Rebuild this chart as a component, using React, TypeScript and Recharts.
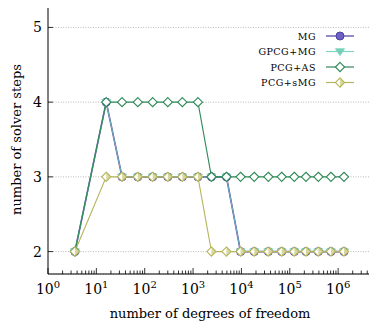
import React from "react";
import {
  LineChart,
  Line,
  XAxis,
  YAxis,
  CartesianGrid,
  Legend,
} from "recharts";

// degrees of freedom (x) and solver steps per method
const dofs = [
  3.6, 16, 34, 72, 146, 300, 600, 1260, 2400, 4900, 9600, 18400, 36000, 68000,
  124000, 216000, 390000, 710000, 1320000,
];
const mgSteps = [2, 4, 3, 3, 3, 3, 3, 3, 3, 3, 2, 2, 2, 2, 2, 2, 2, 2, 2];
const gpcgMgSteps = [2, 4, 3, 3, 3, 3, 3, 3, 3, 3, 2, 2, 2, 2, 2, 2, 2, 2, 2];
const pcgAsSteps = [2, 4, 4, 4, 4, 4, 4, 4, 3, 3, 3, 3, 3, 3, 3, 3, 3, 3, 3];
const pcgSmgSteps = [2, 3, 3, 3, 3, 3, 3, 3, 2, 2, 2, 2, 2, 2, 2, 2, 2, 2, 2];

const yTicks = [2, 3, 4, 5];
const decades = [0, 1, 2, 3, 4, 5, 6];

const X_MAX = Math.pow(10, 6.7);
const FONT = "DejaVu Serif";

const data = dofs.map((x, i) => ({
  x,
  mg: mgSteps[i],
  gpcg: gpcgMgSteps[i],
  pcgas: pcgAsSteps[i],
  pcgsmg: pcgSmgSteps[i],
}));

// major + minor ticks for the log axis
const xTicks: number[] = [];
decades.forEach((k) => {
  for (let m = 1; m <= 9; m++) {
    const v = m * Math.pow(10, k);
    if (v <= X_MAX) xTicks.push(v);
  }
});
const isMajor = (v: number) => Math.abs(Math.log10(v) - Math.round(Math.log10(v))) < 1e-9;

const COLORS = {
  mg: { line: "#4b3f9e", fill: "#6e60c4" },
  gpcg: { line: "#7fd6c0", fill: "#74cdb6" },
  pcgas: { line: "#2f8a57", fill: "#ffffff" },
  pcgsmg: { line: "#b6b55e", fill: "#d9d89c" },
};

function Marker({ kind, cx, cy }: { kind: string; cx: number; cy: number }) {
  if (kind === "mg") {
    return <circle cx={cx} cy={cy} r={4} fill={COLORS.mg.fill} stroke={COLORS.mg.line} strokeWidth={1} />;
  }
  if (kind === "gpcg") {
    const r = 4.5;
    return (
      <path
        d={`M${cx - r},${cy - r * 0.6} L${cx + r},${cy - r * 0.6} L${cx},${cy + r * 0.9} Z`}
        fill={COLORS.gpcg.fill}
        stroke={COLORS.gpcg.line}
        strokeWidth={1}
      />
    );
  }
  const r = 4.6;
  const d = `M${cx},${cy - r} L${cx + r},${cy} L${cx},${cy + r} L${cx - r},${cy} Z`;
  if (kind === "pcgas") {
    return <path d={d} fill="#fff" stroke={COLORS.pcgas.line} strokeWidth={1.1} />;
  }
  return (
    <g>
      <path d={d} fill="#fff" />
      <path d={`M${cx},${cy - r} L${cx + r},${cy} L${cx},${cy + r} Z`} fill={COLORS.pcgsmg.fill} />
      <path d={d} fill="none" stroke={COLORS.pcgsmg.line} strokeWidth={1.1} />
    </g>
  );
}

const dotFor = (kind: string) => (p: any) => (
  <Marker key={`${kind}-${p.index}`} kind={kind} cx={p.cx} cy={p.cy} />
);

function BottomTick(props: any) {
  const { x, y, payload } = props;
  const v = payload.value;
  const major = isMajor(v);
  return (
    <g>
      <line x1={x} y1={y} x2={x} y2={y - (major ? 6 : 3.5)} stroke="#000" strokeWidth={0.8} />
      {major && (
        <text x={x} y={y + 20} textAnchor="middle" fontFamily={FONT} fontSize={14} fill="#000">
          10
          <tspan dy={-6} fontSize={10}>
            {Math.round(Math.log10(v))}
          </tspan>
        </text>
      )}
    </g>
  );
}

function TopTick(props: any) {
  const { x, y, payload } = props;
  const major = isMajor(payload.value);
  return <line x1={x} y1={y} x2={x} y2={y + (major ? 6 : 3.5)} stroke="#000" strokeWidth={0.8} />;
}

function LeftTick(props: any) {
  const { x, y, payload } = props;
  return (
    <g>
      <line x1={x} y1={y} x2={x + 5} y2={y} stroke="#000" strokeWidth={0.8} />
      <text x={x - 6} y={y + 5} textAnchor="end" fontFamily={FONT} fontSize={14} fill="#000">
        {payload.value}
      </text>
    </g>
  );
}

function RightTick(props: any) {
  const { x, y } = props;
  return <line x1={x} y1={y} x2={x - 5} y2={y} stroke="#000" strokeWidth={0.8} />;
}

const legendItems = [
  { kind: "mg", label: "MG" },
  { kind: "gpcg", label: "GPCG+MG" },
  { kind: "pcgas", label: "PCG+AS" },
  { kind: "pcgsmg", label: "PCG+sMG" },
];

function LegendBox() {
  return (
    <svg width={120} height={64}>
      {legendItems.map((it, i) => {
        const y = 8 + i * 15.5;
        const c = (COLORS as any)[it.kind].line;
        return (
          <g key={it.kind}>
            <text x={66} y={y + 3.5} textAnchor="end" fontFamily={FONT} fontSize={9.5} letterSpacing={0.5} fill="#000">
              {it.label}
            </text>
            <line x1={76} y1={y} x2={104} y2={y} stroke={c} strokeWidth={1.2} />
            <Marker kind={it.kind} cx={90} cy={y} />
          </g>
        );
      })}
    </svg>
  );
}

export default function App() {
  return (
    <div style={{ margin: -8, width: 377, height: 329, background: "#fff" }}>
      <LineChart
        width={377}
        height={329}
        data={data}
        margin={{ top: 5, right: 5, left: 0, bottom: 0 }}
        style={{ fontFamily: FONT }}
      >
        <CartesianGrid vertical={false} stroke="#a8a8a8" strokeDasharray="1 1.5" strokeWidth={0.8} />
        <XAxis
          dataKey="x"
          type="number"
          scale="log"
          domain={[1, X_MAX]}
          ticks={xTicks}
          interval={0}
          allowDataOverflow
          height={55}
          tickSize={0}
          tickMargin={0}
          tickLine={false}
          tick={<BottomTick />}
          axisLine={{ stroke: "#000", strokeWidth: 1 }}
          label={{
            value: "number of degrees of freedom",
            position: "insideBottom",
            offset: 11,
            fontFamily: FONT,
            fontSize: 13,
            fill: "#000",
          }}
        />
        <XAxis
          xAxisId="top"
          orientation="top"
          dataKey="x"
          type="number"
          scale="log"
          domain={[1, X_MAX]}
          ticks={xTicks}
          interval={0}
          allowDataOverflow
          height={0}
          tickSize={0}
          tickMargin={0}
          tickLine={false}
          tick={<TopTick />}
          axisLine={{ stroke: "#000", strokeWidth: 1 }}
        />
        <YAxis
          type="number"
          domain={[1.7, 5.3]}
          ticks={yTicks}
          interval={0}
          allowDataOverflow
          width={48}
          tickSize={0}
          tickMargin={0}
          tickLine={false}
          tick={<LeftTick />}
          axisLine={{ stroke: "#000", strokeWidth: 1 }}
          label={{
            value: "number of solver steps",
            angle: -90,
            position: "insideLeft",
            offset: 16,
            fontFamily: FONT,
            fontSize: 13,
            fill: "#000",
            style: { textAnchor: "middle" },
          }}
        />
        <YAxis
          yAxisId="right"
          orientation="right"
          type="number"
          domain={[1.7, 5.3]}
          ticks={yTicks}
          interval={0}
          allowDataOverflow
          width={0}
          tickSize={0}
          tickMargin={0}
          tickLine={false}
          tick={<RightTick />}
          axisLine={{ stroke: "#000", strokeWidth: 1 }}
        />
        <Legend
          layout="vertical"
          align="center"
          verticalAlign="middle"
          wrapperStyle={{ top: 28, left: 250, width: 120, height: 64 }}
          content={() => <LegendBox />}
        />
        <Line dataKey="mg" stroke={COLORS.mg.line} strokeWidth={1.6} dot={dotFor("mg")} isAnimationActive={false} />
        <Line dataKey="gpcg" stroke={COLORS.gpcg.line} strokeWidth={0.8} dot={dotFor("gpcg")} isAnimationActive={false} />
        <Line dataKey="pcgas" stroke={COLORS.pcgas.line} strokeWidth={1.1} dot={dotFor("pcgas")} isAnimationActive={false} />
        <Line dataKey="pcgsmg" stroke={COLORS.pcgsmg.line} strokeWidth={1.1} dot={dotFor("pcgsmg")} isAnimationActive={false} />
      </LineChart>
    </div>
  );
}
